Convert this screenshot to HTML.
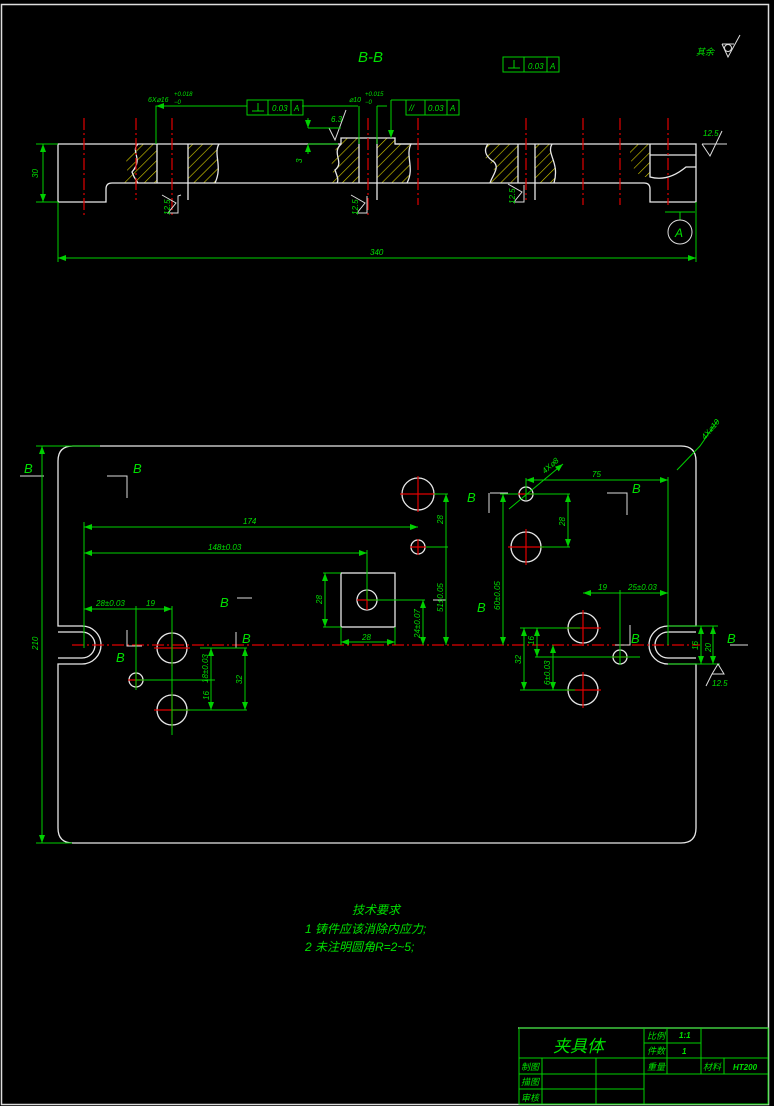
<!DOCTYPE html>
<html><head><meta charset="utf-8"><style>
html,body{margin:0;padding:0;background:#000;}
svg{display:block}
text{font-family:"Liberation Sans","Noto Sans CJK SC",sans-serif;fill:#00e000;font-style:italic}
.w{stroke:#e8e8e8;fill:none;stroke-width:1.3}
.g{stroke:#00d000;fill:none;stroke-width:1}
.r{stroke:#e00000;fill:none;stroke-width:1.2;stroke-dasharray:12 3 2 3}
.h{fill:url(#hat);stroke:none}
</style></head><body>
<svg width="774" height="1106" viewBox="0 0 774 1106" xmlns="http://www.w3.org/2000/svg">
<defs>
<pattern id="hat" width="7" height="7" patternUnits="userSpaceOnUse" patternTransform="rotate(45)">
<rect width="7" height="7" fill="#000"/><line x1="0" y1="0" x2="0" y2="7" stroke="#d8d000" stroke-width="1.2"/></pattern>
<marker id="a" markerWidth="8" markerHeight="6" refX="8" refY="3" orient="auto-start-reverse"><path d="M0,0 L8,3 L0,6 z" fill="#00d000"/></marker>
</defs>
<!-- border -->
<rect x="1.5" y="4.5" width="767" height="1100" fill="none" stroke="#ddd" stroke-width="1.5"/>

<!-- ===== Section B-B ===== -->
<text x="358" y="62" font-size="15">B-B</text>
<rect x="503" y="57" width="56" height="15" class="g"/><line x1="524" y1="57" x2="524" y2="72" class="g"/><line x1="547" y1="57" x2="547" y2="72" class="g"/>
<path d="M508,68 h12 M514,60 v8" class="g"/><text x="528" y="69" font-size="8">0.03</text><text x="550" y="69" font-size="8">A</text>
<text x="696" y="55" font-size="9" font-style="normal">其余</text>
<path d="M722,44 l6,13 l12,-22 M722,44 h12" stroke="#ddd" fill="none"/><circle cx="728" cy="48" r="3.5" stroke="#ddd" fill="none"/>

<!-- hatch -->
<path class="h" d="M138,144 h19 v39 h-33 c8,-10 -2,-22 5,-28 z"/>
<path class="h" d="M188,144 h31 c-6,10 4,20 -4,39 h-27 z"/>
<path class="h" d="M341,138 h18 v45 h-28 c6,-12 -4,-20 4,-28 c2,-8 -2,-12 6,-17 z"/>
<path class="h" d="M377,138 h18 v6 h16 c-6,12 4,24 -4,39 h-30 z"/>
<path class="h" d="M488,144 h30 v39 h-28 c6,-10 5,-17 -2,-22 c-5,-5 -5,-10 0,-17 z"/>
<path class="h" d="M535,144 h17 c-6,10 8,18 2,39 h-19 z"/>
<path class="h" d="M630,144 h20 v33 h-5 c-10,-2 -16,-12 -15,-33 z"/>

<!-- outline -->
<path class="w" d="M58,144 H341 V138 H395 V144 H696 V202 H650 V189 Q650,183 644,183 H112 Q106,183 106,189 V202 H58 Z"/>
<path class="w" d="M650,155 H696 M650,144 V177 Q668,182 686,167 H696"/>
<path class="w" d="M157,144 V183 M188,144 V200 M359,138 V183 M377,138 V200 M518,144 V183 M535,144 V200"/>
<path class="w" d="M138,144 c-8,8 6,14 -6,28 c2,6 4,8 6,11 M219,144 c-6,10 4,22 -4,39 M341,144 c-10,10 4,18 -6,26 c2,6 4,10 2,13 M395,144 h16 c-6,12 4,24 -4,39 M488,144 c-6,8 0,14 6,18 c6,6 -2,14 -4,21 M552,144 c-6,10 8,18 2,39"/>
<!-- red center lines -->
<g class="r"><line x1="84" y1="118" x2="84" y2="215"/><line x1="136" y1="118" x2="136" y2="200"/><line x1="172" y1="118" x2="172" y2="215"/><line x1="368" y1="118" x2="368" y2="215"/><line x1="418" y1="118" x2="418" y2="205"/><line x1="526" y1="118" x2="526" y2="200"/><line x1="583" y1="118" x2="583" y2="205"/><line x1="620" y1="118" x2="620" y2="205"/><line x1="668" y1="118" x2="668" y2="205"/></g>
<!-- roughness marks -->
<g stroke="#ddd" fill="none"><path d="M162,195 l14,8 l-8,10 h10 v-17 l3,-1"/><path d="M351,195 l14,8 l-8,10 h10 v-17"/><path d="M508,184 l14,8 l-8,10 h10 v-17"/><path d="M702,144 l8,12 l12,-25 M702,144 h25"/><path d="M329,128 l6,12 l11,-30 M329,128 h12"/></g>
<text x="170" y="215" font-size="8" transform="rotate(-90 170 215)">12.5</text>
<text x="358" y="215" font-size="8" transform="rotate(-90 358 215)">12.5</text>
<text x="515" y="204" font-size="8" transform="rotate(-90 515 204)">12.5</text>
<text x="703" y="136" font-size="8">12.5</text>
<text x="331" y="122" font-size="8">6.3</text>
<!-- dims -->
<g class="g">
<line x1="43" y1="144" x2="43" y2="202" marker-start="url(#a)" marker-end="url(#a)"/><line x1="36" y1="144" x2="58" y2="144"/><line x1="36" y1="202" x2="58" y2="202"/>
<line x1="58" y1="258" x2="696" y2="258" marker-start="url(#a)" marker-end="url(#a)"/><line x1="58" y1="202" x2="58" y2="262"/><line x1="696" y1="202" x2="696" y2="262"/>
<path d="M156,144 V106 H247 M186,106 h-28"/><path d="M156,106 h32" marker-start="url(#a)"/>
<path d="M302,106 H358 M377,106 h10" /><line x1="359" y1="106" x2="359" y2="144"/><line x1="377" y1="106" x2="377" y2="144"/>
<path d="M391,100 V138" marker-end="url(#a)"/><path d="M391,100 h15"/>
<path d="M308,128 h33 M308,144 h30"/><path d="M308,118 v10" marker-end="url(#a)"/><path d="M308,154 v-10" marker-end="url(#a)"/>
<path d="M665,212 h30 M680,212 v8"/>
</g>
<text x="38" y="178" font-size="8" transform="rotate(-90 38 178)">30</text>
<text x="370" y="255" font-size="8">340</text>
<text x="302" y="163" font-size="8" transform="rotate(-90 302 163)">3</text>
<text x="148" y="102" font-size="7">6X⌀16</text><text x="174" y="96" font-size="6">+0.018</text><text x="174" y="104" font-size="6">−0</text>
<text x="349" y="102" font-size="7">⌀10</text><text x="365" y="96" font-size="6">+0.015</text><text x="365" y="104" font-size="6">−0</text>
<rect x="247" y="100" width="56" height="15" class="g"/><line x1="268" y1="100" x2="268" y2="115" class="g"/><line x1="291" y1="100" x2="291" y2="115" class="g"/>
<path d="M252,111 h12 M258,103 v8" class="g"/><text x="272" y="111" font-size="8">0.03</text><text x="294" y="111" font-size="8">A</text>
<rect x="406" y="100" width="53" height="15" class="g"/><line x1="425" y1="100" x2="425" y2="115" class="g"/><line x1="447" y1="100" x2="447" y2="115" class="g"/>
<text x="409" y="111" font-size="9">//</text><text x="428" y="111" font-size="8">0.03</text><text x="450" y="111" font-size="8">A</text>
<circle cx="680" cy="232" r="12" stroke="#ddd" fill="none"/><text x="675" y="237" font-size="12">A</text>

<!-- ===== Plan view ===== -->
<path class="w" d="M73,446 H681 Q696,446 696,461 V626 H668 A19,19 0 0 0 668,664 H696 V828 Q696,843 681,843 H73 Q58,843 58,828 V664 H82 A19,19 0 0 0 82,626 H58 V461 Q58,446 73,446 Z"/>
<path class="w" d="M58,632 H82 A13,13 0 0 1 82,658 H58 M696,632 H668 A13,13 0 0 0 668,658 H696"/>
<rect x="341" y="573" width="54" height="54" class="w"/>
<g class="w"><circle cx="418" cy="494" r="16"/><circle cx="418" cy="547" r="7"/><circle cx="367" cy="600" r="10"/><circle cx="172" cy="648" r="15"/><circle cx="136" cy="680" r="7"/><circle cx="172" cy="710" r="15"/><circle cx="526" cy="494" r="7"/><circle cx="526" cy="547" r="15"/><circle cx="583" cy="628" r="15"/><circle cx="620" cy="657" r="7"/><circle cx="583" cy="690" r="15"/></g>
<g stroke="#e00000" stroke-width="1.2">
<path d="M400,494 h36 M418,476 v36 M410,547 h16 M418,539 v16 M357,600 h20 M367,590 v20 M154,648 h36 M172,630 v36 M128,680 h16 M136,672 v16 M154,710 h36 M172,692 v36 M518,494 h16 M508,547 h36 M526,529 v36 M565,628 h36 M583,610 v36 M612,657 h16 M565,690 h36 M583,672 v36"/>
<path d="M72,645 H700" stroke-dasharray="12 3 2 3"/>
</g>
<!-- section markers -->
<g stroke="#ddd" fill="none"><path d="M20,476 h24 M107,476 h20 v22 M237,598 h15 M237,627 h0 M236,632 v16 h-18 M127,630 v16 h15 M490,493 h18 M489,493 v20 M607,493 h20 v22 M446,620 v-20 M446,600 h-13 M630,625 v20 h-15 M730,645 h18"/></g>
<g font-size="13"><text x="24" y="473">B</text><text x="133" y="473">B</text><text x="220" y="607">B</text><text x="242" y="643">B</text><text x="116" y="662">B</text><text x="467" y="502">B</text><text x="632" y="493">B</text><text x="477" y="612">B</text><text x="631" y="643">B</text><text x="727" y="643">B</text></g>
<!-- dims plan -->
<g class="g">
<line x1="42" y1="446" x2="42" y2="843" marker-start="url(#a)" marker-end="url(#a)"/><path d="M36,446 H100 M36,843 H72"/>
<line x1="84" y1="527" x2="418" y2="527" marker-start="url(#a)" marker-end="url(#a)"/>
<line x1="84" y1="553" x2="367" y2="553" marker-start="url(#a)" marker-end="url(#a)"/><line x1="367" y1="550" x2="367" y2="600"/>
<line x1="84" y1="522" x2="84" y2="648"/>
<line x1="84" y1="609" x2="136" y2="609" marker-start="url(#a)"/><line x1="136" y1="609" x2="172" y2="609" marker-end="url(#a)"/><line x1="136" y1="606" x2="136" y2="690"/><line x1="172" y1="606" x2="172" y2="735"/>
<path d="M136,680 H215 M172,710 H247 M200,648 H247"/><line x1="211" y1="648" x2="211" y2="710" marker-start="url(#a)" marker-end="url(#a)"/><line x1="245" y1="648" x2="245" y2="710" marker-start="url(#a)" marker-end="url(#a)"/>
<path d="M434,494 H448 M426,547 H448 M367,600 H425"/><line x1="446" y1="494" x2="446" y2="645" marker-start="url(#a)" marker-end="url(#a)"/><line x1="423" y1="600" x2="423" y2="645" marker-start="url(#a)" marker-end="url(#a)"/><line x1="446" y1="494" x2="446" y2="547" />
<line x1="325" y1="573" x2="325" y2="627" marker-start="url(#a)" marker-end="url(#a)"/><path d="M323,573 H341 M323,627 H341 M341,627 V645 M395,627 V645"/><line x1="341" y1="642" x2="395" y2="642" marker-start="url(#a)" marker-end="url(#a)"/>
<path d="M526,494 H570 M540,547 H570"/><line x1="568" y1="494" x2="568" y2="547" marker-start="url(#a)" marker-end="url(#a)"/>
<line x1="503" y1="494" x2="503" y2="645" marker-start="url(#a)" marker-end="url(#a)"/><path d="M500,494 H518"/>
<line x1="526" y1="480" x2="668" y2="480" marker-start="url(#a)" marker-end="url(#a)"/><line x1="668" y1="477" x2="668" y2="645"/><line x1="526" y1="478" x2="526" y2="500"/>
<line x1="583" y1="593" x2="620" y2="593" marker-start="url(#a)"/><line x1="620" y1="593" x2="668" y2="593" marker-end="url(#a)"/><line x1="620" y1="590" x2="620" y2="665"/>
<path d="M520,628 H580 M535,657 H640 M520,690 H575"/><line x1="524" y1="628" x2="524" y2="690" marker-start="url(#a)" marker-end="url(#a)"/><line x1="537" y1="628" x2="537" y2="657" marker-start="url(#a)" marker-end="url(#a)"/><line x1="553" y1="645" x2="553" y2="690" marker-start="url(#a)" marker-end="url(#a)"/>
<path d="M668,626 H718 M668,664 H720"/><line x1="701" y1="626" x2="701" y2="664" marker-start="url(#a)" marker-end="url(#a)"/><line x1="713" y1="626" x2="713" y2="664" marker-start="url(#a)" marker-end="url(#a)"/>
<path d="M509,509 L563,464" marker-end="url(#a)"/><path d="M677,470 L700,446 L718,420"/>
</g>
<path d="M712,674 l6,-10 l6,10 h-12 M712,674 l-6,12" stroke="#ddd" fill="none"/>
<g font-size="8">
<text x="243" y="524">174</text><text x="208" y="550">148±0.03</text><text x="96" y="606">28±0.03</text><text x="146" y="606">19</text>
<text x="208" y="683" transform="rotate(-90 208 683)">18±0.03</text><text x="209" y="700" transform="rotate(-90 209 700)">16</text><text x="242" y="684" transform="rotate(-90 242 684)">32</text>
<text x="443" y="524" transform="rotate(-90 443 524)">28</text><text x="443" y="612" transform="rotate(-90 443 612)">51±0.05</text><text x="420" y="638" transform="rotate(-90 420 638)">24±0.07</text>
<text x="322" y="604" transform="rotate(-90 322 604)">28</text><text x="362" y="640">28</text>
<text x="565" y="526" transform="rotate(-90 565 526)">28</text><text x="500" y="610" transform="rotate(-90 500 610)">60±0.05</text>
<text x="592" y="477">75</text><text x="598" y="590">19</text><text x="628" y="590">25±0.03</text>
<text x="521" y="664" transform="rotate(-90 521 664)">32</text><text x="534" y="645" transform="rotate(-90 534 645)">16</text><text x="550" y="685" transform="rotate(-90 550 685)">6±0.03</text>
<text x="698" y="650" transform="rotate(-90 698 650)">16</text><text x="711" y="652" transform="rotate(-90 711 652)">20</text>
<text x="38" y="650" transform="rotate(-90 38 650)">210</text><text x="712" y="686">12.5</text>
<text x="545" y="474" transform="rotate(-42 545 474)">4X⌀8</text><text x="705" y="440" transform="rotate(-50 705 440)">4X⌀10</text>
</g>

<!-- technical requirements -->
<g font-size="12" font-style="normal"><text x="352" y="914">技术要求</text><text x="305" y="933">1 铸件应该消除内应力;</text><text x="305" y="951">2 未注明圆角R=2~5;</text></g>

<!-- title block -->
<line x1="518" y1="1028" x2="768" y2="1028" stroke="#bbb" stroke-width="1.5"/>
<g class="g" stroke-width="1.3">
<rect x="519" y="1028" width="249" height="76"/>
<path d="M644,1028 V1104 M667,1028 V1074 M701,1028 V1074 M724,1058 V1074 M644,1043 H701 M519,1058 H768 M519,1074 H768 M542,1058 V1104 M596,1058 V1104 M519,1089 H644"/>
</g>
<g font-style="normal"><text x="553" y="1052" font-size="17">夹具体</text>
<g font-size="9"><text x="647" y="1039">比例</text><text x="647" y="1054">件数</text><text x="647" y="1070">重量</text><text x="703" y="1070">材料</text><text x="521" y="1070">制图</text><text x="521" y="1085">描图</text><text x="521" y="1101">审核</text></g></g>
<g font-size="8" font-weight="bold"><text x="679" y="1038">1:1</text><text x="682" y="1054">1</text><text x="733" y="1070">HT200</text></g>
</svg>
</body></html>
